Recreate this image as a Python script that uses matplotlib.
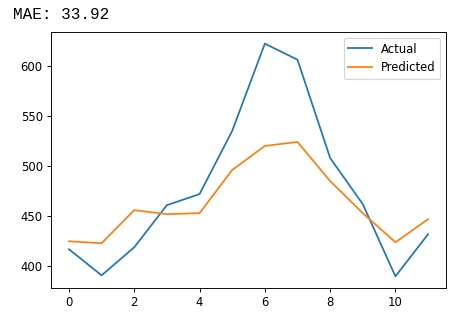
import matplotlib
matplotlib.use("Agg")
import matplotlib.pyplot as plt

hours = list(range(12))
actual = [417, 391, 419, 461, 472, 535, 622, 606, 508, 462, 390, 432]
predicted = [425, 423, 456, 452, 453, 496, 520, 524, 485, 453, 424, 447]
mae_text = "MAE: 33.92"

DPI = 84
fig = plt.figure(figsize=(474 / DPI, 323 / DPI), dpi=DPI)
ax = fig.add_axes([0.1076, 0.1084, 0.941 - 0.1076, 0.9009 - 0.1084])

ax.plot(hours, actual, label="Actual", color="tab:blue")
ax.plot(hours, predicted, label="Predicted", color="tab:orange")
ax.legend(loc="upper right")

fig.text(0.027, 0.941, mae_text, family="Liberation Mono", fontsize=13.7,
         ha="left", va="baseline")

fig.savefig("out.png", dpi=DPI)
